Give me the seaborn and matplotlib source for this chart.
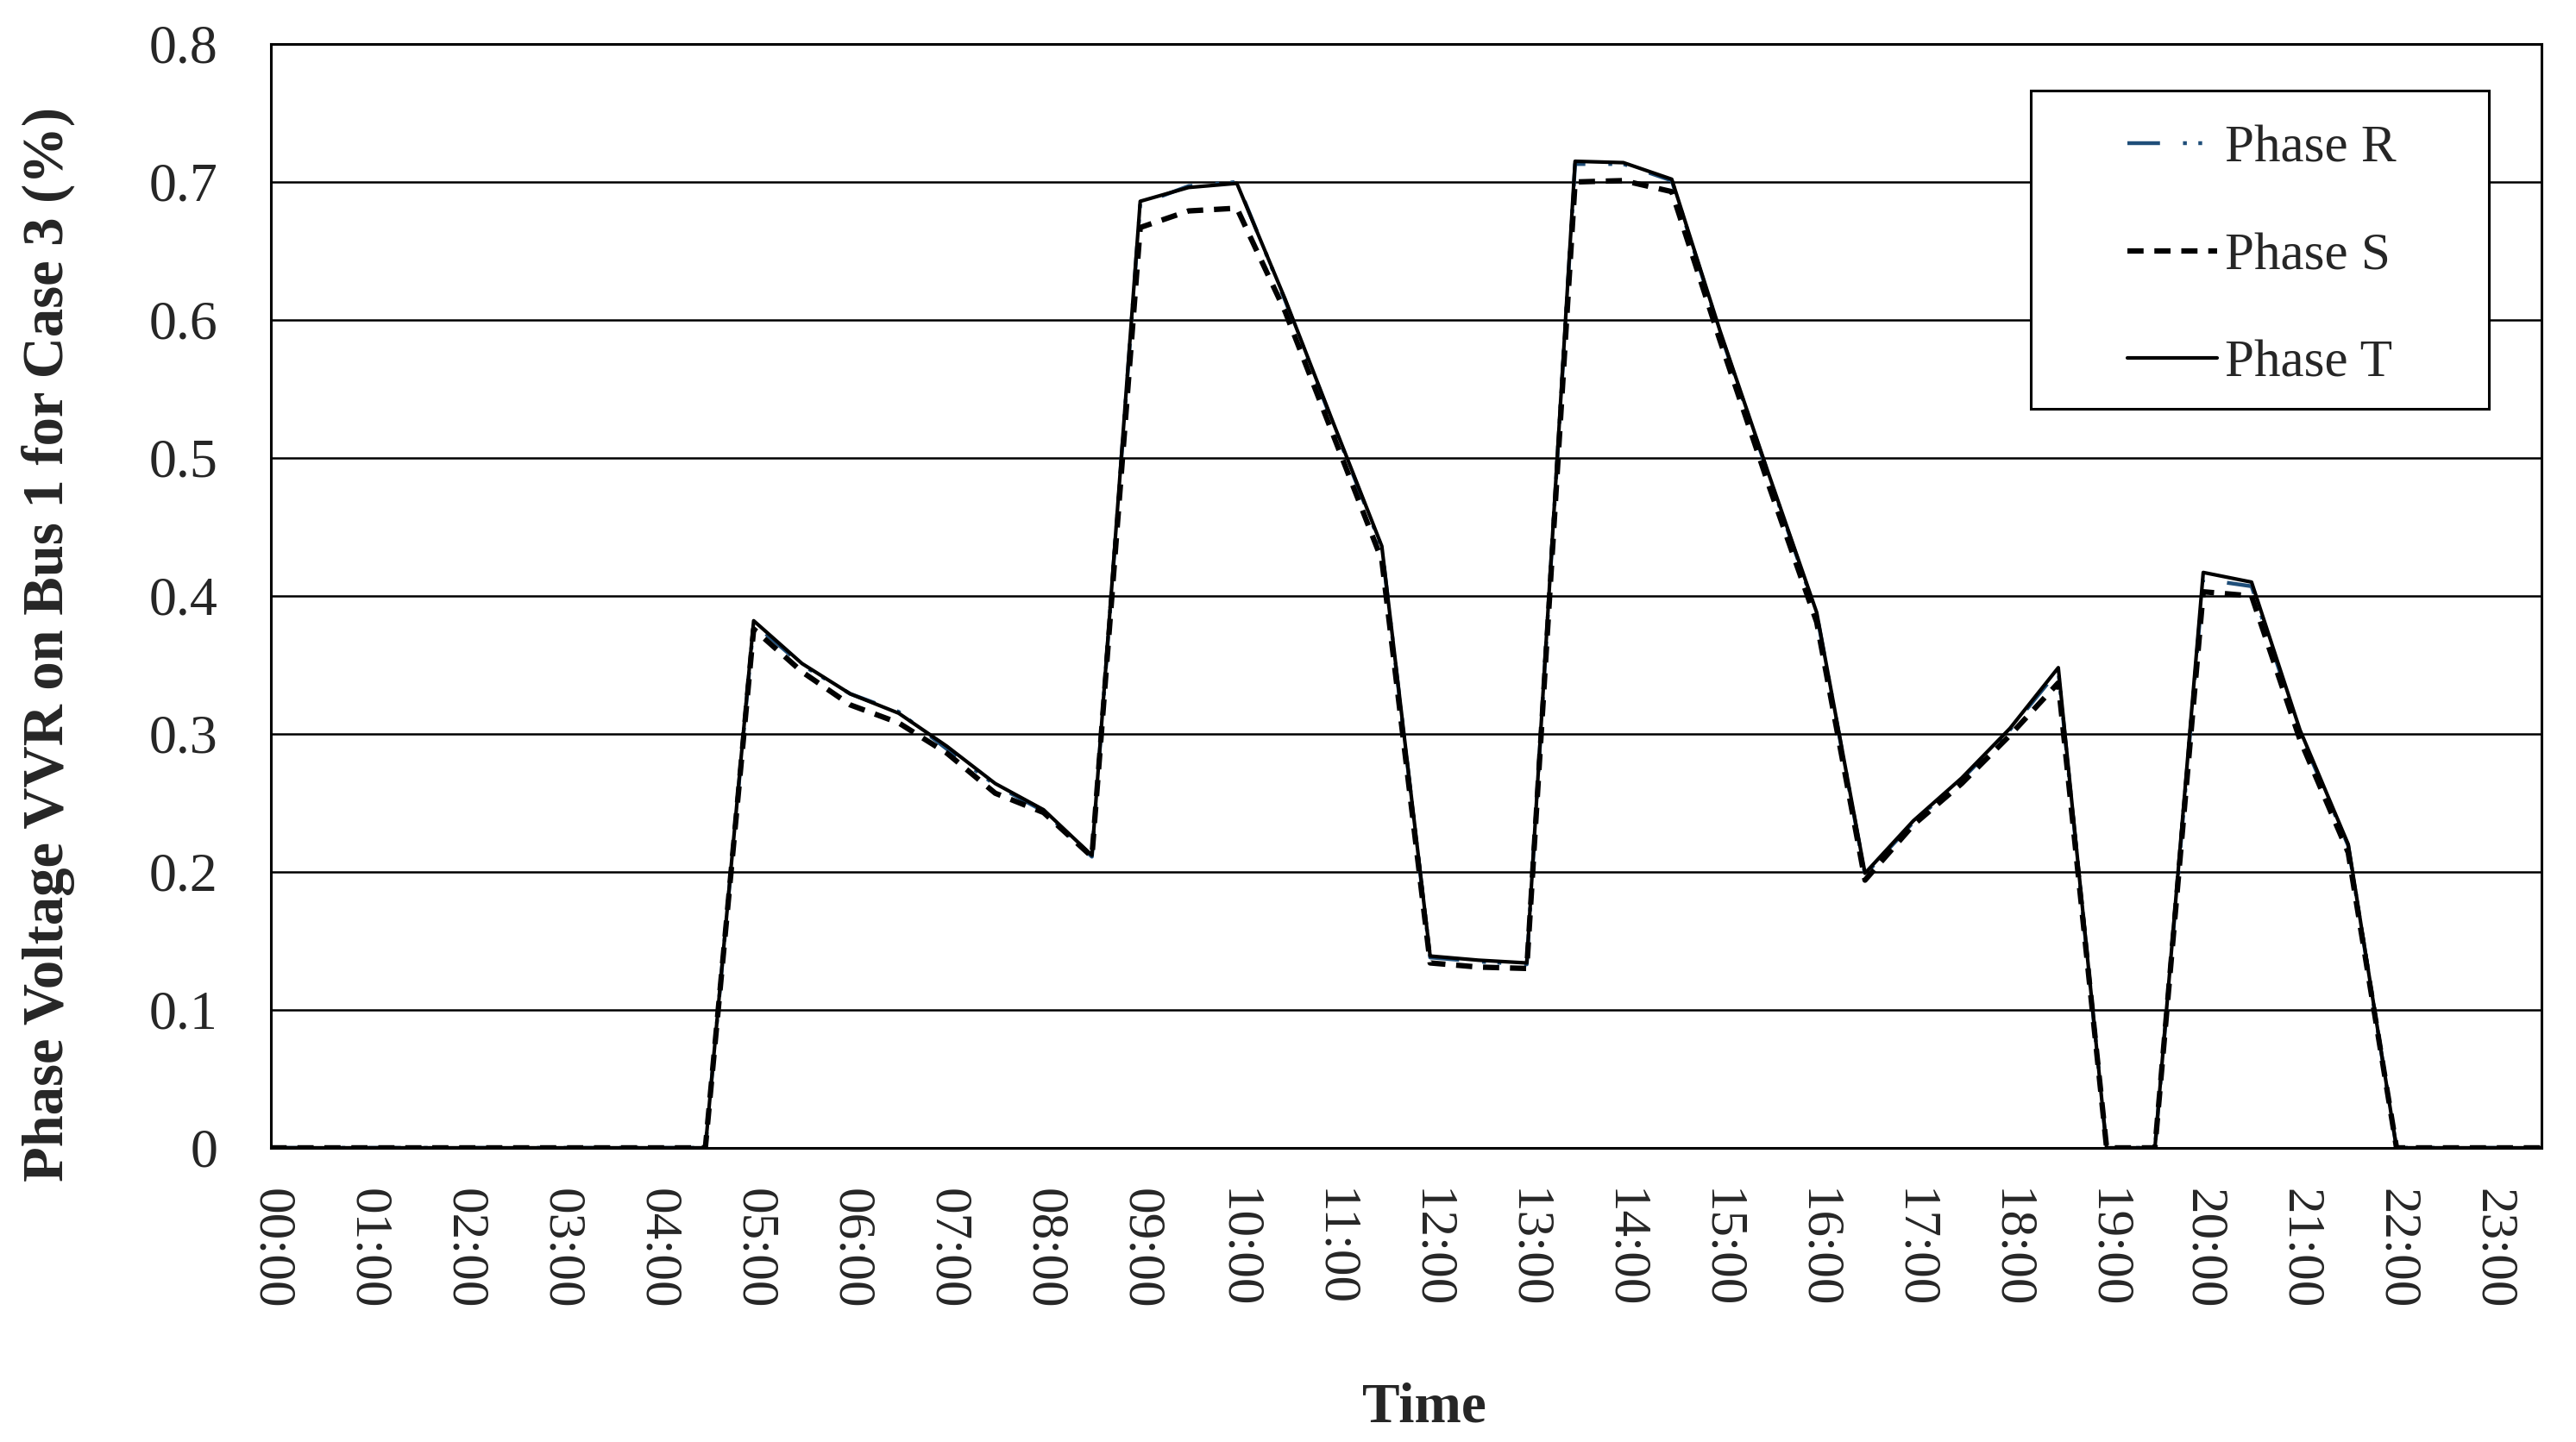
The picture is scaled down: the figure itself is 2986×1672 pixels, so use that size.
import numpy as np
import pandas as pd
import matplotlib
matplotlib.use("Agg")
import matplotlib.pyplot as plt
from matplotlib.patches import Rectangle
import seaborn as sns

# half-hour time steps over one day
TIMES = [f"{h:02d}:{m:02d}" for h in range(24) for m in (0, 30)]

PHASE_R = [0, 0, 0, 0, 0, 0, 0, 0, 0, 0,
           0.380, 0.350, 0.329, 0.316, 0.289, 0.263, 0.244, 0.211,
           0.684, 0.697, 0.700, 0.614, 0.524, 0.435, 0.138, 0.135, 0.133,
           0.713, 0.713, 0.701, 0.591, 0.488, 0.387, 0.198, 0.236, 0.267, 0.303, 0.346,
           0, 0, 0.412, 0.407, 0.301, 0.219, 0, 0, 0, 0]
PHASE_S = [0, 0, 0, 0, 0, 0, 0, 0, 0, 0,
           0.376, 0.345, 0.321, 0.308, 0.286, 0.257, 0.243, 0.211,
           0.667, 0.679, 0.681, 0.606, 0.516, 0.426, 0.134, 0.131, 0.130,
           0.700, 0.701, 0.693, 0.585, 0.481, 0.381, 0.194, 0.234, 0.264, 0.299, 0.337,
           0, 0, 0.403, 0.400, 0.296, 0.214, 0, 0, 0, 0]
PHASE_T = [0, 0, 0, 0, 0, 0, 0, 0, 0, 0,
           0.382, 0.351, 0.329, 0.315, 0.291, 0.264, 0.245, 0.212,
           0.686, 0.696, 0.699, 0.615, 0.525, 0.436, 0.139, 0.136, 0.134,
           0.715, 0.714, 0.702, 0.592, 0.489, 0.388, 0.199, 0.237, 0.268, 0.304, 0.348,
           0, 0, 0.417, 0.410, 0.303, 0.220, 0, 0, 0, 0]
YTICKS = [0, 0.1, 0.2, 0.3, 0.4, 0.5, 0.6, 0.7, 0.8]
YTICKLABELS = ["0", "0.1", "0.2", "0.3", "0.4", "0.5", "0.6", "0.7", "0.8"]

df = pd.DataFrame({"idx": np.arange(len(TIMES)), "time": TIMES,
                   "R": PHASE_R, "S": PHASE_S, "T": PHASE_T})

sns.set_style("white")
plt.rcParams["font.family"] = ["Liberation Serif", "DejaVu Serif"]
FS = 44

fig = plt.figure(figsize=(29.86, 16.72), dpi=100)
ax = fig.add_axes([0.105, 0.204, 0.8816, 0.7655])

sns.lineplot(data=df, x="idx", y="R", ax=ax, color="#1f4e79", lw=3.2,
             linestyle=(0, (8.5, 6, 1, 3, 1, 6)), label="Phase R")
sns.lineplot(data=df, x="idx", y="S", ax=ax, color="black", lw=4.5,
             linestyle=(0, (3, 2)), label="Phase S")
sns.lineplot(data=df, x="idx", y="T", ax=ax, color="black", lw=3.0,
             linestyle="-", label="Phase T")

ax.set_xlim(0, len(TIMES) - 1)
ax.set_ylim(0, 0.8)
ax.set_yticks(YTICKS)
ax.set_yticklabels(YTICKLABELS, fontsize=46)
ax.set_xticks(df["idx"])
ax.set_xticklabels([t if t.endswith(":00") else "" for t in TIMES],
                   rotation=-90, fontsize=FS)
ax.tick_params(axis="x", direction="in", length=11, width=1.6, pad=34, color="black")
ax.tick_params(axis="y", length=0, pad=44)
ax.yaxis.grid(True, color="black", lw=1.8)
ax.xaxis.grid(False)
for s in ax.spines.values():
    s.set_color("black"); s.set_linewidth(2.2)

ax.set_xlabel("Time", fontsize=47, fontweight="bold")
ax.set_ylabel("Phase Voltage VVR on Bus 1 for Case 3 (%)", fontsize=48, fontweight="bold")
ax.xaxis.set_label_coords(0.508, -0.2125)
ax.yaxis.set_label_coords(-0.086, 0.456)

# legend box drawn separately (wide inner margins like the original)
ax.add_patch(Rectangle((0.775, 0.6695), 0.202, 0.2885, transform=ax.transAxes,
                       facecolor="white", edgecolor="black", lw=2.2, zorder=4))
leg = ax.legend(loc="upper left", bbox_to_anchor=(0.8176, 0.9265), borderaxespad=0,
                fontsize=FS, frameon=False, handlelength=1.7, handletextpad=0.16,
                labelspacing=1.12, borderpad=0)
leg.set_zorder(5)

fig.savefig("out.png", dpi=100)
